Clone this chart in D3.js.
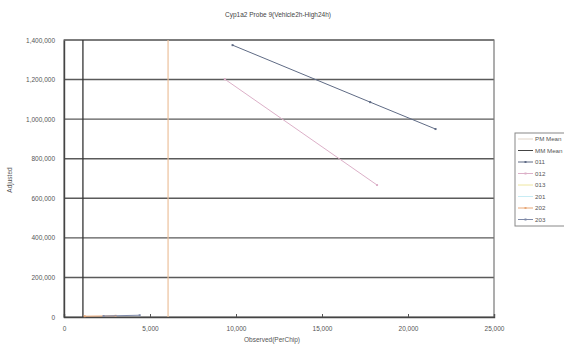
<!DOCTYPE html>
<html><head><meta charset="utf-8">
<script src="https://cdn.jsdelivr.net/npm/d3@7"></script>
<style>
html,body{margin:0;padding:0;background:#fff;}
svg{display:block;font-family:"Liberation Sans",Arial,sans-serif;}
</style></head>
<body>
<svg id="chart" width="564" height="346"></svg>
<script>
// Chart text
const chartTitle = "Cyp1a2 Probe 9(Vehicle2h-High24h)";
const xTitle = "Observed(PerChip)";
const yTitle = "Adjusted";

// Tick values
const xTicks = [0, 5000, 10000, 15000, 20000, 25000];
const yTicks = [0, 200000, 400000, 600000, 800000, 1000000, 1200000, 1400000];

// Reference means (vertical lines)
const pmMean = 6050;
const mmMean = 1100;

// Series names and points [observed, adjusted]
const seriesNames = ["011", "012", "013", "201", "202", "203"];
const s011 = [[9800, 1374000], [17800, 1086000], [21600, 950000]];
const s012 = [[9350, 1202000], [18200, 667000]];
const s013 = [[250, 3000]];
const s201 = [[600, 2000]];
const s202 = [[1200, 4000], [3000, 6000]];
const s203 = [[2300, 5000], [4400, 9000]];
const seriesData = [s011, s012, s013, s201, s202, s203];
const seriesColors = ["#5f6b85", "#dcb0c8", "#eee6a0", "#c8ecf4", "#e8a878", "#7f8aa8"];
const seriesMarker = [true, true, false, false, true, true];

const legendNames = ["PM Mean", "MM Mean"].concat(seriesNames);
const legendColors = ["#e0d4c8", "#444"].concat(seriesColors);

const svg = d3.select("#chart");
const m = {left: 64, top: 40, right: 494, bottom: 317};

const x = d3.scaleLinear().domain([0, 25000]).range([m.left, m.right]);
const y = d3.scaleLinear().domain([0, 1400000]).range([m.bottom, m.top]);
const fmt = d3.format(",");

// Horizontal gridlines
svg.append("g").selectAll("line").data(yTicks.slice(1)).join("line")
  .attr("x1", m.left).attr("x2", m.right)
  .attr("y1", d => y(d)).attr("y2", d => y(d))
  .attr("stroke", "#5a5a5a").attr("stroke-width", 1.4);

// Plot frame
svg.append("rect").attr("x", m.left).attr("y", m.top)
  .attr("width", m.right - m.left).attr("height", m.bottom - m.top)
  .attr("fill", "none").attr("stroke", "#777").attr("stroke-width", 1.2);

// Axes
const xAxis = svg.append("g").attr("transform", `translate(0,${m.bottom})`)
  .call(d3.axisBottom(x).tickValues(xTicks).tickFormat(fmt).tickSize(-3).tickPadding(9));
const yAxis = svg.append("g").attr("transform", `translate(${m.left},0)`)
  .call(d3.axisLeft(y).tickValues(yTicks).tickFormat(fmt).tickSize(0).tickPadding(9));
[xAxis, yAxis].forEach(a => {
  a.select(".domain").attr("stroke", "#444").attr("stroke-width", 1.4);
  a.selectAll(".tick line").attr("stroke", "#555");
  a.selectAll("text").attr("font-size", 6.5).attr("fill", "#555")
    .attr("font-family", "Liberation Sans, Arial, sans-serif");
});

// Mean lines
svg.append("line").attr("x1", x(pmMean)).attr("x2", x(pmMean))
  .attr("y1", m.top).attr("y2", m.bottom)
  .attr("stroke", "#ecc09c").attr("stroke-width", 1.2);
svg.append("line").attr("x1", x(mmMean)).attr("x2", x(mmMean))
  .attr("y1", m.top).attr("y2", m.bottom)
  .attr("stroke", "#333").attr("stroke-width", 1.3);

// Series lines with markers
const line = d3.line().x(d => x(d[0])).y(d => y(d[1]));
seriesData.forEach((pts, i) => {
  const g = svg.append("g");
  g.append("path").datum(pts).attr("d", line)
    .attr("fill", "none").attr("stroke", seriesColors[i]).attr("stroke-width", 1);
  if (seriesMarker[i]) {
    g.selectAll("rect").data(pts).join("rect")
      .attr("x", d => x(d[0]) - 1).attr("y", d => y(d[1]) - 1)
      .attr("width", 2).attr("height", 2).attr("fill", seriesColors[i]);
  }
});

// Titles
svg.append("text").attr("x", 278).attr("y", 17).attr("text-anchor", "middle")
  .attr("font-size", 6.5).attr("fill", "#444").text(chartTitle);
svg.append("text").attr("x", 272).attr("y", 342).attr("text-anchor", "middle")
  .attr("font-size", 6.5).attr("fill", "#555").text(xTitle);
svg.append("text").attr("transform", "translate(12,180) rotate(-90)")
  .attr("text-anchor", "middle").attr("font-size", 6.5).attr("fill", "#555").text(yTitle);

// Legend
const lg = svg.append("g");
lg.append("rect").attr("x", 515).attr("y", 133).attr("width", 60).attr("height", 93)
  .attr("fill", "#fff").attr("stroke", "#888").attr("stroke-width", 1);
legendNames.forEach((name, i) => {
  const ly = 139 + i * 11.5;
  lg.append("line").attr("x1", 518).attr("x2", 533).attr("y1", ly).attr("y2", ly)
    .attr("stroke", legendColors[i]).attr("stroke-width", 1);
  if (i >= 2 && seriesMarker[i - 2]) {
    lg.append("rect").attr("x", 524.5).attr("y", ly - 1).attr("width", 2).attr("height", 2)
      .attr("fill", legendColors[i]);
  }
  lg.append("text").attr("x", 535).attr("y", ly + 2.2).attr("font-size", 6.2)
    .attr("fill", "#555").text(name);
});
</script>
</body></html>
